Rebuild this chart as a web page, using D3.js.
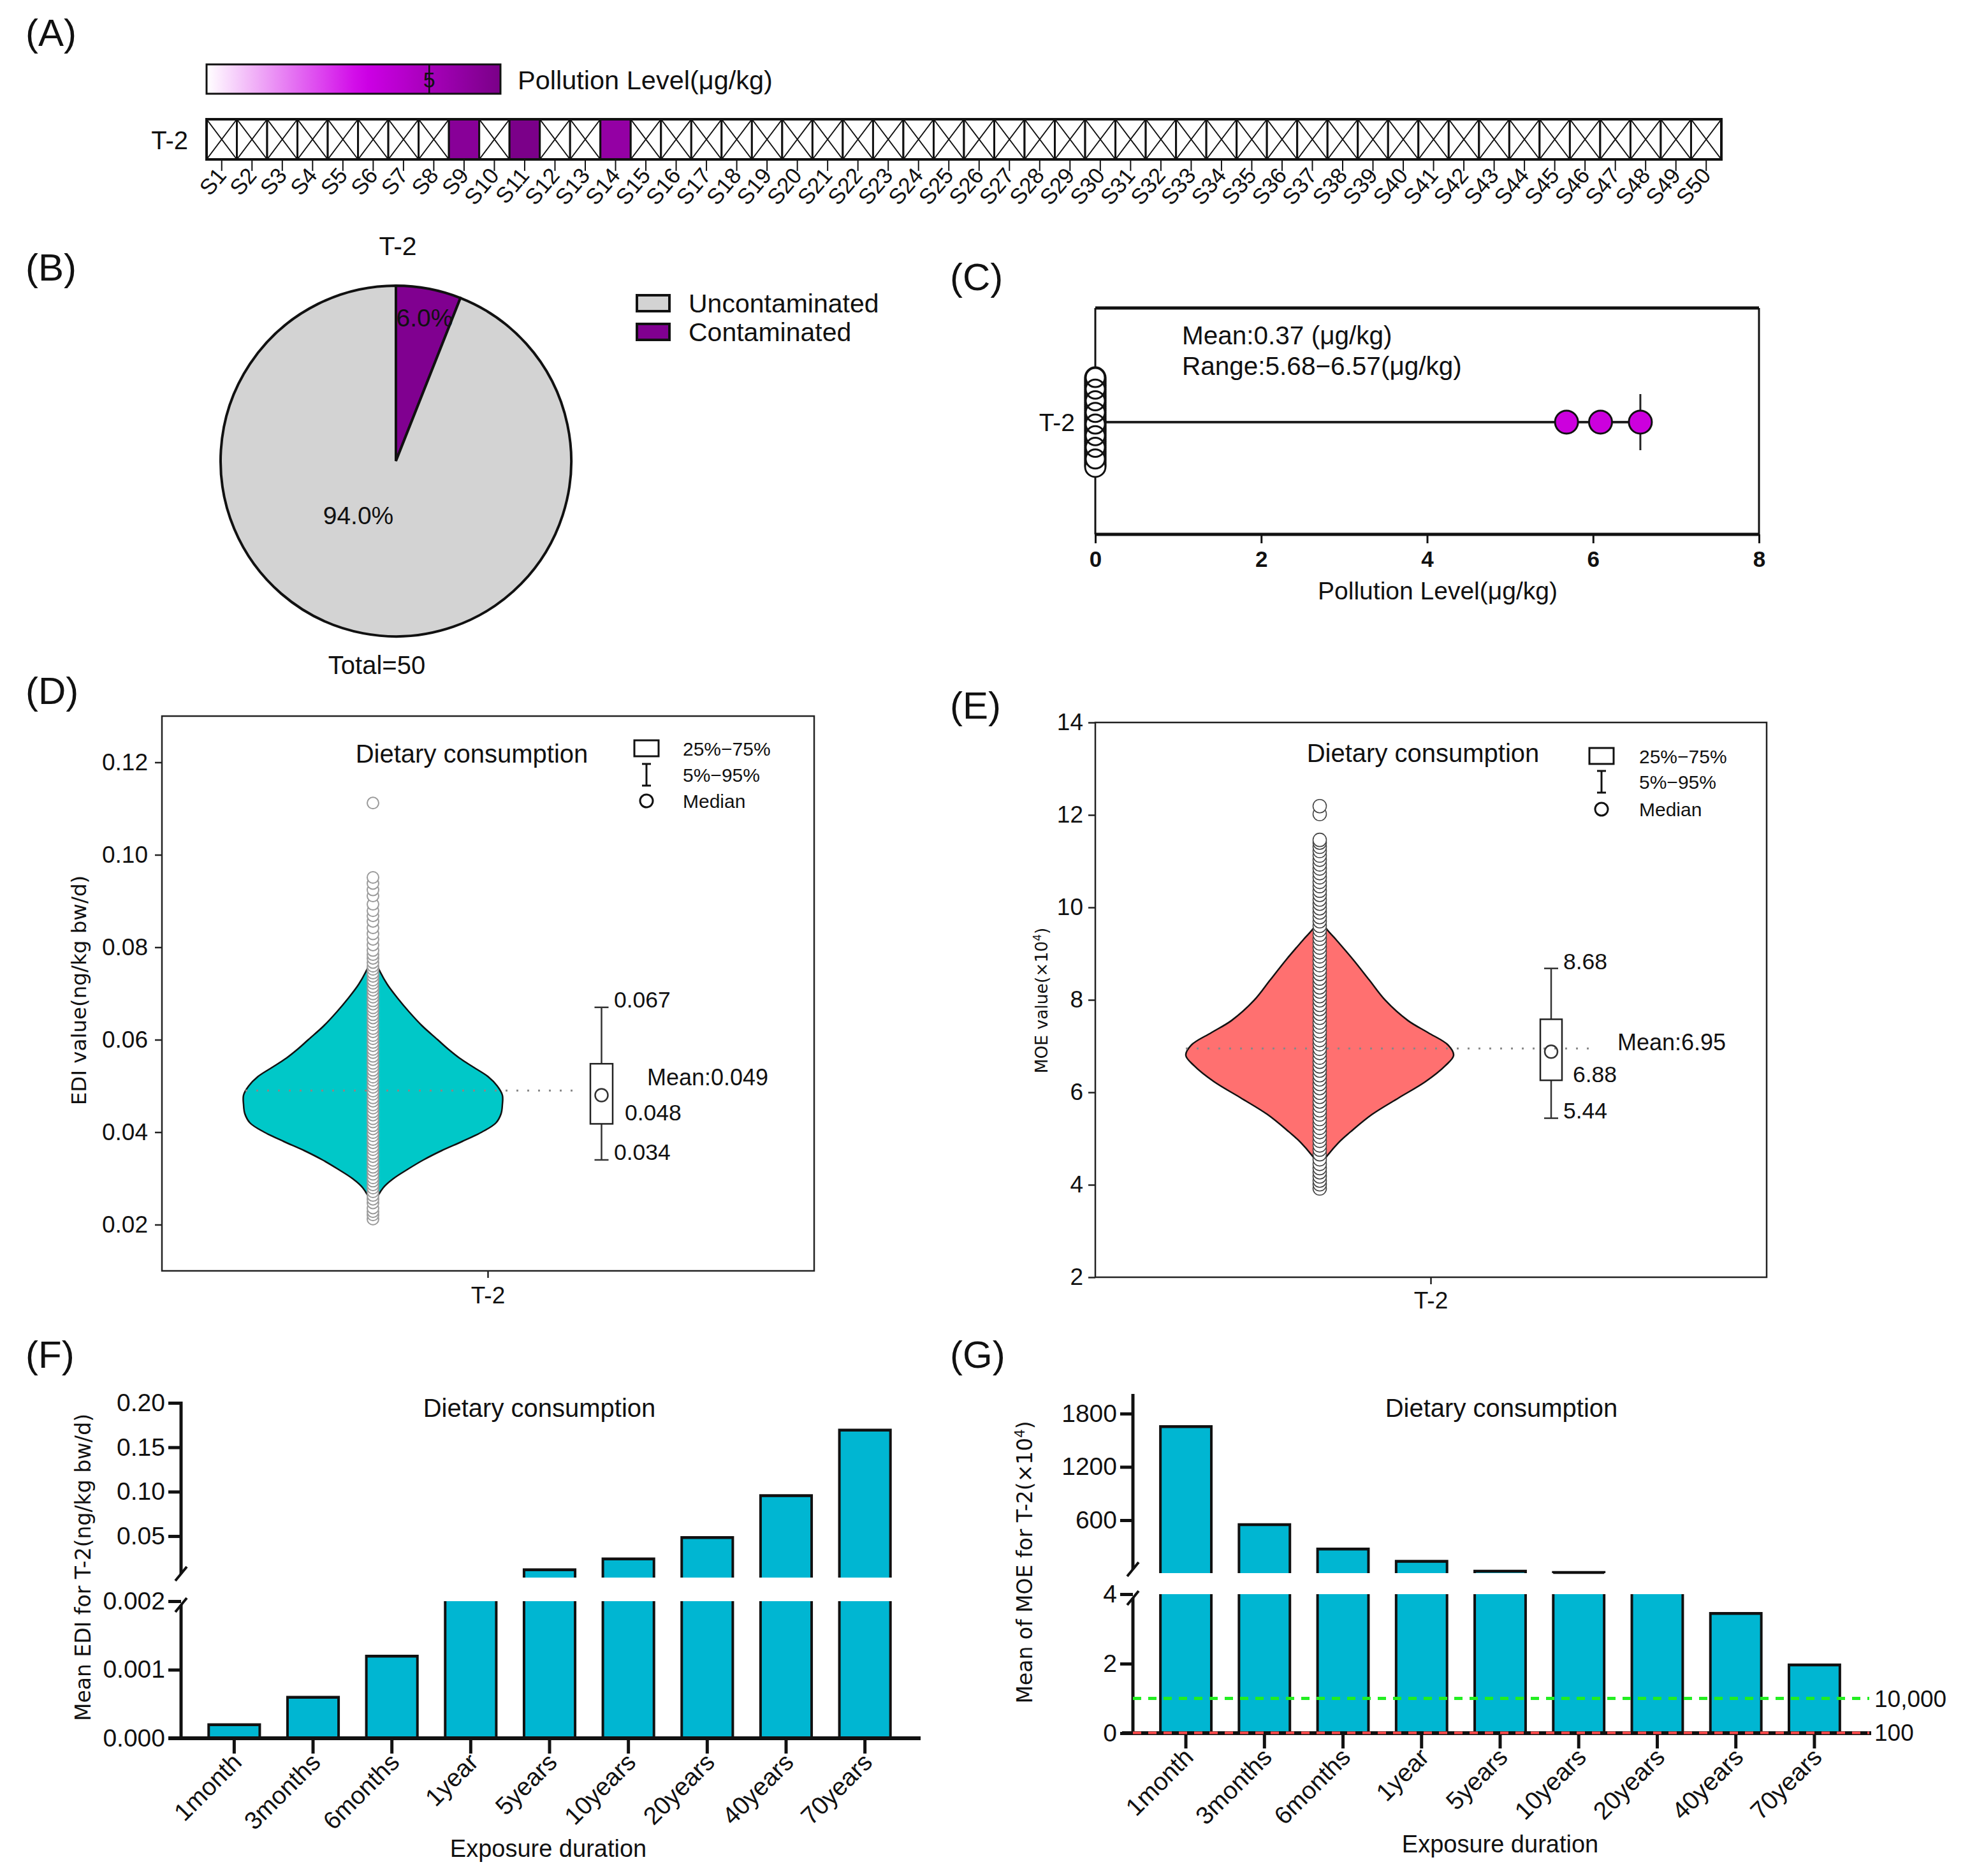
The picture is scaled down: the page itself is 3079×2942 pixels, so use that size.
<!DOCTYPE html>
<html>
<head>
<meta charset="utf-8">
<title>T-2 toxin</title>
<script src="https://cdn.jsdelivr.net/npm/d3@7/dist/d3.min.js"></script>
<style>
  body { margin: 0; background: #fff; }
</style>
</head>
<body>
<svg id="fig"></svg>
<script>
// ---------- data ----------
var sampleNames = ["S1","S2","S3","S4","S5","S6","S7","S8","S9","S10",
  "S11","S12","S13","S14","S15","S16","S17","S18","S19","S20",
  "S21","S22","S23","S24","S25","S26","S27","S28","S29","S30",
  "S31","S32","S33","S34","S35","S36","S37","S38","S39","S40",
  "S41","S42","S43","S44","S45","S46","S47","S48","S49","S50"];
var sampleLevels = [0,0,0,0,0,0,0,0,6.09,0,6.57,0,0,5.68,0,
  0,0,0,0,0,0,0,0,0,0,0,0,0,0,0,0,0,0,0,0,
  0,0,0,0,0,0,0,0,0,0,0,0,0,0,0];

var pieNames = ["Uncontaminated", "Contaminated"];
var pieCounts = [47, 3];
var pieColors = ["#d3d3d3", "#800090"];

var ediTicks = [0.02, 0.04, 0.06, 0.08, 0.10, 0.12];
var ediViolinVals = [0.0225, 0.025, 0.028, 0.030, 0.032, 0.034, 0.036, 0.038, 0.040, 0.042, 0.044, 0.046, 0.048,
  0.050, 0.052, 0.054, 0.056, 0.058, 0.060, 0.063, 0.066, 0.069, 0.072, 0.075, 0.077, 0.080, 0.085, 0.089];
var ediViolinDens = [0, 0.02, 0.08, 0.16, 0.27, 0.39, 0.53, 0.69, 0.84, 0.95, 0.99, 1.0, 1.0,
  0.96, 0.89, 0.78, 0.67, 0.58, 0.50, 0.38, 0.28, 0.19, 0.11, 0.05, 0.02, 0.01, 0.006, 0];
var ediPoints = [0.0212, 0.0221, 0.0228, 0.0236, 0.0247, 0.0255, 0.0263, 0.0271, 0.0279, 0.0286, 0.0294,
  0.0301, 0.0309, 0.0317, 0.0324, 0.0332, 0.0339, 0.0347, 0.0354, 0.0362, 0.0369, 0.0377, 0.0384, 0.0392,
  0.0399, 0.0407, 0.0414, 0.0422, 0.0429, 0.0437, 0.0444, 0.0452, 0.0459, 0.0467, 0.0474, 0.0482, 0.0489,
  0.0497, 0.0504, 0.0512, 0.0519, 0.0527, 0.0534, 0.0542, 0.0549, 0.0557, 0.0564, 0.0572, 0.0579, 0.0587,
  0.0594, 0.0602, 0.0609, 0.0617, 0.0624, 0.0632, 0.0639, 0.0647, 0.0654, 0.0662, 0.0669, 0.0677, 0.0684,
  0.0692, 0.0699, 0.0707, 0.0714, 0.0722, 0.0729, 0.0737, 0.0744, 0.0752, 0.0759, 0.0767, 0.0776, 0.0784,
  0.0793, 0.0805, 0.0817, 0.0829, 0.0842, 0.0856, 0.0868, 0.0879, 0.0893, 0.0911, 0.0924, 0.0938, 0.0951, 0.1112];
var ediBox = [0.034, 0.0418, 0.048, 0.0548, 0.067]; // 5%, 25%, median, 75%, 95%
var ediMean = 0.049;

var moeTicks = [2, 4, 6, 8, 10, 12, 14];
var moeViolinVals = [3.95, 4.2, 4.47, 4.64, 4.91, 5.17, 5.52, 5.88, 6.23, 6.58, 6.80, 7.02, 7.29, 7.55,
  7.99, 8.43, 8.87, 9.31, 9.58, 9.8, 10.3, 10.75];
var moeViolinDens = [0, 0.01, 0.02, 0.06, 0.14, 0.24, 0.39, 0.59, 0.79, 0.94, 1.0, 0.96, 0.81, 0.66,
  0.49, 0.37, 0.25, 0.12, 0.04, 0.015, 0.01, 0];
var moePoints = [3.92, 4.01, 4.09, 4.18, 4.27, 4.36, 4.45, 4.55, 4.66, 4.76, 4.85, 4.95, 5.04, 5.14, 5.23,
  5.33, 5.42, 5.52, 5.61, 5.71, 5.80, 5.90, 5.99, 6.09, 6.18, 6.28, 6.37, 6.47, 6.56, 6.66, 6.75, 6.85,
  6.94, 7.04, 7.13, 7.23, 7.32, 7.42, 7.51, 7.61, 7.70, 7.80, 7.89, 7.99, 8.08, 8.18, 8.27, 8.37, 8.46,
  8.56, 8.65, 8.75, 8.84, 8.94, 9.03, 9.13, 9.22, 9.32, 9.41, 9.51, 9.60, 9.70, 9.79, 9.89, 9.98, 10.08,
  10.17, 10.27, 10.36, 10.46, 10.55, 10.65, 10.74, 10.84, 10.93, 11.03, 11.12, 11.22, 11.31, 11.40, 11.46,
  12.02, 12.19];
var moeBox = [5.44, 6.26, 6.88, 7.58, 8.68];
var moeMean = 6.95;

var durations = ["1month", "3months", "6months", "1year", "5years", "10years", "20years", "40years", "70years"];
var meanEDI = [0.0002, 0.0006, 0.0012, 0.0024, 0.0122, 0.0245, 0.0485, 0.0958, 0.1695];
var meanMOE = [1656, 552, 276, 138, 27.6, 13.8, 6.9, 3.45, 1.97];
var ediLowTicks = [0, 0.001, 0.002];
var ediHighTicks = [0.05, 0.10, 0.15, 0.20];
var moeLowTicks = [0, 2, 4];
var moeHighTicks = [600, 1200, 1800];
var moeLimits = [10000, 100];

// ---------- setup ----------
var W = 3079, H = 2942;
var FONT = '"Liberation Sans", Arial, sans-serif';
var WIDE = '"DejaVu Sans", Verdana, sans-serif';
var svg = d3.select("#fig").attr("width", W).attr("height", H)
  .attr("font-family", FONT);
svg.append("rect").attr("width", W).attr("height", H).attr("fill", "#fff");
var defs = svg.append("defs");

function txt(s, x, y, size, anchor) {
  return svg.append("text").attr("x", x).attr("y", y)
    .attr("font-size", size).attr("text-anchor", anchor || "start")
    .attr("fill", "#111").text(s);
}

// panel letters
[["(A)", 40, 72], ["(B)", 40, 440], ["(C)", 1490, 455], ["(D)", 40, 1104],
 ["(E)", 1490, 1127], ["(F)", 40, 2145], ["(G)", 1490, 2145]].forEach(function (l) {
  txt(l[0], l[1], l[2], 60);
});

// ---------- (A) heat strip ----------
var heatColor = d3.scaleLinear().domain([0, 3.5, 6.6]).range(["#ffffff", "#d000e8", "#7a0088"]);
var grad = defs.append("linearGradient").attr("id", "cbar");
d3.range(0, 1.0001, 0.05).forEach(function (t) {
  grad.append("stop").attr("offset", t).attr("stop-color", heatColor(t * 6.6));
});
var cbX = d3.scaleLinear().domain([0, 6.6]).range([324, 785]);
svg.append("rect").attr("x", cbX(0)).attr("y", 101).attr("width", cbX(6.6) - cbX(0)).attr("height", 46)
  .attr("fill", "url(#cbar)").attr("stroke", "#111").attr("stroke-width", 3);
svg.append("line").attr("x1", cbX(5)).attr("x2", cbX(5)).attr("y1", 101).attr("y2", 147)
  .attr("stroke", "#111").attr("stroke-width", 2.5);
txt("5", cbX(5), 137, 34, "middle");
txt("Pollution Level(μg/kg)", 812, 140, 41.5);

var sx = d3.scaleBand().domain(sampleNames).range([324, 2700]);
var bw = sx.bandwidth();
var cells = svg.append("g").selectAll("g").data(sampleNames).enter().append("g");
cells.append("rect")
  .attr("x", function (d) { return sx(d); }).attr("y", 187)
  .attr("width", bw).attr("height", 63)
  .attr("fill", function (d, i) { return sampleLevels[i] > 0 ? heatColor(sampleLevels[i]) : "#fff"; })
  .attr("stroke", "#111").attr("stroke-width", 3);
cells.filter(function (d, i) { return sampleLevels[i] === 0; }).append("path")
  .attr("d", function (d) {
    var x = sx(d);
    return "M" + x + ",187L" + (x + bw) + ",250M" + (x + bw) + ",187L" + x + ",250";
  })
  .attr("stroke", "#111").attr("stroke-width", 2).attr("fill", "none");
svg.append("rect").attr("x", 324).attr("y", 187).attr("width", 2376).attr("height", 63)
  .attr("fill", "none").attr("stroke", "#111").attr("stroke-width", 4);
cells.append("line")
  .attr("x1", function (d) { return sx(d) + bw / 2; }).attr("x2", function (d) { return sx(d) + bw / 2; })
  .attr("y1", 250).attr("y2", 268).attr("stroke", "#111").attr("stroke-width", 2);
cells.append("text")
  .attr("transform", function (d) { return "translate(" + (sx(d) + bw / 2 + 9) + ",276) rotate(-50)"; })
  .attr("text-anchor", "end").attr("font-size", 35).attr("fill", "#111")
  .text(function (d) { return d; });
txt("T-2", 295, 234, 40, "end");

// ---------- (B) pie ----------
var pieIdx = [1, 0];
var pie = d3.pie().sort(null).value(function (i) { return pieCounts[i]; });
var arc = d3.arc().innerRadius(0).outerRadius(275);
var pg = svg.append("g").attr("transform", "translate(621,723)");
pg.selectAll("path").data(pie(pieIdx)).enter().append("path")
  .attr("d", arc).attr("fill", function (d) { return pieColors[d.data]; })
  .attr("stroke", "#111").attr("stroke-width", 4);
var total = d3.sum(pieCounts);
txt(d3.format(".1f")(pieCounts[1] / total * 100) + "%", 666, 512, 39, "middle");
txt(d3.format(".1f")(pieCounts[0] / total * 100) + "%", 562, 822, 39, "middle");
txt("Total=" + total, 591, 1057, 40, "middle");
txt("T-2", 624, 400, 41, "middle");
pieNames.forEach(function (n, i) {
  svg.append("rect").attr("x", 999).attr("y", 463 + i * 45).attr("width", 51).attr("height", 25)
    .attr("fill", pieColors[i]).attr("stroke", "#111").attr("stroke-width", 4);
  txt(n, 1080, 490 + i * 45, 41);
});

// ---------- (C) dot plot ----------
var cx = d3.scaleLinear().domain([0, 8]).range([1718, 2759]);
var cRow = 662;
svg.append("line").attr("x1", cx(0)).attr("x2", cx(8)).attr("y1", 483).attr("y2", 483).attr("stroke", "#111").attr("stroke-width", 5);
svg.append("line").attr("x1", cx(0)).attr("x2", cx(8)).attr("y1", 838).attr("y2", 838).attr("stroke", "#111").attr("stroke-width", 5);
svg.append("line").attr("x1", cx(0)).attr("x2", cx(0)).attr("y1", 483).attr("y2", 838).attr("stroke", "#111").attr("stroke-width", 3);
svg.append("line").attr("x1", cx(8)).attr("x2", cx(8)).attr("y1", 483).attr("y2", 838).attr("stroke", "#111").attr("stroke-width", 3);
var cAxis = svg.append("g").attr("transform", "translate(0,838)")
  .call(d3.axisBottom(cx).tickValues([0, 2, 4, 6, 8]).tickSize(14).tickPadding(12).tickFormat(d3.format("d")));
cAxis.select(".domain").remove();
cAxis.selectAll("line").attr("stroke", "#111").attr("stroke-width", 3);
cAxis.selectAll("text").attr("font-size", 35).attr("font-weight", "bold").attr("font-family", FONT).attr("fill", "#111");
txt("Pollution Level(μg/kg)", 2255, 940, 39, "middle");
txt("T-2", 1686, 676, 39, "end");
var maxLevel = d3.max(sampleLevels);
var posLevels = sampleLevels.filter(function (v) { return v > 0; });
var minPos = d3.min(posLevels);
svg.append("line").attr("x1", cx(0)).attr("x2", cx(maxLevel)).attr("y1", cRow).attr("y2", cRow)
  .attr("stroke", "#222").attr("stroke-width", 4);
svg.append("line").attr("x1", cx(maxLevel)).attr("x2", cx(maxLevel)).attr("y1", cRow - 44).attr("y2", cRow + 44)
  .attr("stroke", "#222").attr("stroke-width", 3);
// the 47 zero samples overlap in one column: outline pass, white pass, then every 6th ring
var zeros = sampleLevels.filter(function (v) { return v === 0; });
function zy(i) { return cRow + (i / (zeros.length - 1) - 0.5) * 140; }
var zg = svg.append("g");
zg.selectAll("circle.o").data(zeros).enter().append("circle")
  .attr("cx", function (d) { return cx(d); }).attr("cy", function (d, i) { return zy(i); })
  .attr("r", 16).attr("fill", "#fff").attr("stroke", "#111").attr("stroke-width", 3);
zg.selectAll("circle.w").data(zeros).enter().append("circle")
  .attr("cx", function (d) { return cx(d); }).attr("cy", function (d, i) { return zy(i); })
  .attr("r", 14).attr("fill", "#fff");
zg.selectAll("circle.r").data(zeros.filter(function (d, i) { return i % 6 === 0; })).enter().append("circle")
  .attr("cx", function (d) { return cx(d); }).attr("cy", function (d, i) { return zy(i * 6); })
  .attr("r", 15).attr("fill", "none").attr("stroke", "#111").attr("stroke-width", 3);
svg.append("g").selectAll("circle").data(posLevels).enter().append("circle")
  .attr("cx", function (d) { return cx(d); }).attr("cy", cRow)
  .attr("r", 18).attr("fill", "#cc00dd").attr("stroke", "#111").attr("stroke-width", 3);
txt("Mean:" + d3.format(".2f")(d3.mean(sampleLevels)) + " (μg/kg)", 1854, 540, 40.5);
txt("Range:" + d3.format(".2f")(minPos) + "−" + d3.format(".2f")(maxLevel) + "(μg/kg)", 1854, 588, 40.5);

// ---------- (D) / (E) violins ----------
function violinPanel(p) {
  var g = svg.append("g");
  var y = d3.scaleLinear().domain(p.domain).range([p.bottom, p.top]);
  g.append("rect").attr("x", p.left).attr("y", p.top).attr("width", p.right - p.left)
    .attr("height", p.bottom - p.top).attr("fill", "none").attr("stroke", "#222").attr("stroke-width", 2.5);
  var ax = g.append("g").attr("transform", "translate(" + p.left + ",0)")
    .call(d3.axisLeft(y).tickValues(p.ticks).tickFormat(p.fmt).tickSize(11).tickPadding(p.tickPad));
  ax.select(".domain").remove();
  ax.selectAll("line").attr("stroke", "#222").attr("stroke-width", 2.5);
  ax.selectAll("text").attr("font-size", 37).attr("font-family", FONT).attr("fill", "#111");
  var mid = (p.left + p.right) / 2;
  g.append("line").attr("x1", mid).attr("x2", mid).attr("y1", p.bottom).attr("y2", p.bottom + 11)
    .attr("stroke", "#222").attr("stroke-width", 2.5);
  txt("T-2", mid, p.xLabelY, 37, "middle");

  var vd = p.vals.map(function (v, i) { return { v: v, w: p.dens[i] }; });
  var area = d3.area().curve(d3.curveCatmullRom)
    .y(function (d) { return y(d.v); })
    .x0(function (d) { return p.cx - d.w * p.maxW; })
    .x1(function (d) { return p.cx + d.w * p.maxW; });
  g.append("path").datum(vd).attr("d", area).attr("fill", p.fill)
    .attr("stroke", "#111").attr("stroke-width", 2.5);

  // box plot
  var b = p.box, bx0 = p.boxX[0], bx1 = p.boxX[1], bm = (bx0 + bx1) / 2;
  g.append("line").attr("x1", bm).attr("x2", bm).attr("y1", y(b[0])).attr("y2", y(b[4]))
    .attr("stroke", "#333").attr("stroke-width", 2.5);
  [b[0], b[4]].forEach(function (v) {
    g.append("line").attr("x1", bm - 11).attr("x2", bm + 11).attr("y1", y(v)).attr("y2", y(v))
      .attr("stroke", "#333").attr("stroke-width", 2.5);
  });
  g.append("rect").attr("x", bx0).attr("y", y(b[3])).attr("width", bx1 - bx0).attr("height", y(b[1]) - y(b[3]))
    .attr("fill", "#fff").attr("stroke", "#222").attr("stroke-width", 2.5);

  g.append("line").attr("x1", p.meanX[0]).attr("x2", p.meanX[1]).attr("y1", y(p.mean)).attr("y2", y(p.mean))
    .attr("stroke", "#888").attr("stroke-width", 3).attr("stroke-dasharray", "3,14");
  g.append("circle").attr("cx", bm).attr("cy", y(b[2])).attr("r", 10)
    .attr("fill", "none").attr("stroke", "#333").attr("stroke-width", 2.5);

  g.append("g").selectAll("circle").data(p.points).enter().append("circle")
    .attr("cx", p.cx).attr("cy", function (d) { return y(d); }).attr("r", p.r)
    .attr("fill", "#fff").attr("stroke", p.ptStroke).attr("stroke-width", p.ptWidth);

  txt(p.fmtLab(b[4]), bx1 + 2, y(b[4]) + p.off[0], 35.5);
  txt("Mean:" + p.fmtLab(p.mean), p.meanLabX, y(p.mean) + p.off[1], 36);
  txt(p.fmtLab(b[2]), bx1 + p.medDx, y(b[2]) + p.off[2], 35.5);
  txt(p.fmtLab(b[0]), bx1 + 2, y(b[0]) + p.off[3], 35.5);

  // legend
  var L = p.leg;
  txt("Dietary consumption", L.titleX, L.titleY, 40, "middle");
  g.append("rect").attr("x", L.x - 19).attr("y", L.y0 - 13).attr("width", 38).attr("height", 25)
    .attr("fill", "#fff").attr("stroke", "#111").attr("stroke-width", 3);
  g.append("path").attr("d", "M" + (L.x - 7) + "," + (L.y1 - 17) + "H" + (L.x + 7) + "M" + L.x + "," + (L.y1 - 17) +
      "V" + (L.y1 + 17) + "M" + (L.x - 7) + "," + (L.y1 + 17) + "H" + (L.x + 7))
    .attr("stroke", "#111").attr("stroke-width", 3).attr("fill", "none");
  g.append("circle").attr("cx", L.x).attr("cy", L.y2).attr("r", 10)
    .attr("fill", "none").attr("stroke", "#111").attr("stroke-width", 3);
  txt("25%−75%", L.tx, L.y0 + 11, 30);
  txt("5%−95%", L.tx, L.y1 + 11, 30);
  txt("Median", L.tx, L.y2 + 11, 30);
}

violinPanel({
  left: 254, right: 1277, top: 1123, bottom: 1993, domain: [0.01, 0.13], ticks: ediTicks, tickPad: 11,
  fmt: d3.format(".2f"), xLabelY: 2044, cx: 585, maxW: 203, fill: "#00c8c8",
  vals: ediViolinVals, dens: ediViolinDens, points: ediPoints, r: 9, ptStroke: "#9a9a9a", ptWidth: 2,
  box: ediBox, boxX: [926, 961], mean: ediMean, meanX: [385, 903], fmtLab: d3.format(".3f"),
  meanLabX: 1015, medDx: 19, off: [0, -8, 39, 0],
  leg: { titleX: 740, titleY: 1196, x: 1014, tx: 1071, y0: 1174, y1: 1215, y2: 1256 }
});
txt("EDI value(ng/kg bw/d)", 0, 0, 32.5, "middle").attr("font-family", WIDE)
  .attr("transform", "translate(135,1553) rotate(-90)");

violinPanel({
  left: 1718, right: 2771, top: 1133, bottom: 2003, domain: [2, 14], ticks: moeTicks, tickPad: 8,
  fmt: d3.format("d"), xLabelY: 2052, cx: 2070, maxW: 210, fill: "#ff7070",
  vals: moeViolinVals, dens: moeViolinDens, points: moePoints, r: 10.5, ptStroke: "#444", ptWidth: 1.6,
  box: moeBox, boxX: [2416, 2450], mean: moeMean, meanX: [1860, 2504], fmtLab: d3.format(".2f"),
  meanLabX: 2537, medDx: 17, off: [1, 3, 48, 0],
  leg: { titleX: 2232, titleY: 1195, x: 2512, tx: 2571, y0: 1186, y1: 1226, y2: 1269 }
});
var el = svg.append("text").attr("font-family", WIDE).attr("font-size", 26.5).attr("text-anchor", "middle")
  .attr("fill", "#111").attr("transform", "translate(1643,1569) rotate(-90)");
el.append("tspan").text("MOE value(×10");
el.append("tspan").attr("dy", -10).attr("font-size", 17).text("4");
el.append("tspan").attr("dy", 10).text(")");

// ---------- (F) / (G) broken-axis bars ----------
function brokenBars(p) {
  var g = svg.append("g");
  var x = d3.scaleBand().domain(durations).range([p.axisX, p.xEnd]).paddingInner(0.352).paddingOuter(0.35);
  var yLow = d3.scaleLinear().domain(p.lowDomain).range(p.lowRange);
  var yHigh = d3.scaleLinear().domain(p.highDomain).range(p.highRange);
  var lowMax = p.lowDomain[1], highMin = p.highDomain[0];
  var fill = "#00b6d2";

  p.vals.forEach(function (v, i) {
    var x0 = x(durations[i]), x1 = x0 + x.bandwidth();
    var yb = yLow(0), top = yLow(Math.min(v, lowMax));
    g.append("rect").attr("x", x0).attr("y", top).attr("width", x1 - x0).attr("height", yb - top).attr("fill", fill);
    var d = v > lowMax ? "M" + x0 + "," + yb + "V" + top + "M" + x1 + "," + top + "V" + yb
                       : "M" + x0 + "," + yb + "V" + top + "H" + x1 + "V" + yb;
    g.append("path").attr("d", d).attr("fill", "none").attr("stroke", "#111").attr("stroke-width", 4);
    if (v > lowMax) {
      g.append("line").attr("x1", x0).attr("x2", x1).attr("y1", top).attr("y2", top);
    } else {
      g.append("line").attr("x1", x0).attr("x2", x1).attr("y1", top + 1).attr("y2", top + 1)
        .attr("stroke", "#111").attr("stroke-width", 3);
    }
    if (v > highMin) {
      var hb = yHigh(highMin), ht = yHigh(v);
      if (hb - ht > 1) {
        g.append("rect").attr("x", x0).attr("y", ht).attr("width", x1 - x0).attr("height", hb - ht).attr("fill", fill);
        g.append("path").attr("d", "M" + x0 + "," + hb + "V" + ht + "H" + x1 + "V" + hb)
          .attr("fill", "none").attr("stroke", "#111").attr("stroke-width", 4);
        g.append("line").attr("x1", x0).attr("x2", x1).attr("y1", ht + 1).attr("y2", ht + 1)
          .attr("stroke", "#111").attr("stroke-width", 3);
      }
    }
  });

  // y axis with break
  var ax = p.axisX;
  g.append("line").attr("x1", ax).attr("x2", ax).attr("y1", p.axisTop).attr("y2", p.highRange[0] - 6)
    .attr("stroke", "#111").attr("stroke-width", 5);
  g.append("line").attr("x1", ax).attr("x2", ax).attr("y1", p.lowRange[1] + 6).attr("y2", p.lowRange[0])
    .attr("stroke", "#111").attr("stroke-width", 5);
  [p.highRange[0] - 6, p.lowRange[1] + 6].forEach(function (yy) {
    g.append("line").attr("x1", ax - 9).attr("x2", ax + 9).attr("y1", yy + 11).attr("y2", yy - 11)
      .attr("stroke", "#111").attr("stroke-width", 4);
  });
  function ticks(sc, vals, fmt) {
    var a = g.append("g").attr("transform", "translate(" + ax + ",0)")
      .call(d3.axisLeft(sc).tickValues(vals).tickFormat(fmt).tickSize(20).tickPadding(5));
    a.select(".domain").remove();
    a.selectAll("line").attr("stroke", "#111").attr("stroke-width", 5);
    a.selectAll("text").attr("font-size", 39).attr("font-family", FONT).attr("fill", "#111");
  }
  ticks(yLow, p.lowTicks, p.lowFmt);
  ticks(yHigh, p.highTicks, p.highFmt);

  // x axis
  var y0 = yLow(0);
  g.append("line").attr("x1", p.xAxis[0]).attr("x2", p.xAxis[1]).attr("y1", y0).attr("y2", y0)
    .attr("stroke", "#111").attr("stroke-width", 6);
  durations.forEach(function (d) {
    var c = x(d) + x.bandwidth() / 2;
    g.append("line").attr("x1", c).attr("x2", c).attr("y1", y0).attr("y2", y0 + 24)
      .attr("stroke", "#111").attr("stroke-width", 5);
    g.append("text").attr("transform", "translate(" + (c + 14) + "," + (y0 + 40) + ") rotate(-45)")
      .attr("text-anchor", "end").attr("font-size", 39).attr("fill", "#111").text(d);
  });
  txt("Dietary consumption", p.titleX, 2222, 40, "middle");
  txt("Exposure duration", p.xTitleX, p.xTitleY, 38, "middle");
  return { x: x, yLow: yLow, g: g };
}

brokenBars({
  axisX: 284, xEnd: 1440, xAxis: [264, 1444], axisTop: 2198, vals: meanEDI,
  lowDomain: [0, 0.002], lowRange: [2726, 2511], highDomain: [0.0033, 0.2], highRange: [2474, 2200],
  lowTicks: ediLowTicks, lowFmt: d3.format(".3f"), highTicks: ediHighTicks, highFmt: d3.format(".2f"),
  titleX: 846, xTitleX: 860, xTitleY: 2912
});
svg.append("text").attr("font-family", WIDE).attr("font-size", 33).attr("text-anchor", "middle")
  .attr("fill", "#111").attr("transform", "translate(142,2458) rotate(-90)")
  .text("Mean EDI for T-2(ng/kg bw/d)");

var G = brokenBars({
  axisX: 1777, xEnd: 2929, xAxis: [1760, 2935], axisTop: 2186, vals: meanMOE,
  lowDomain: [0, 4], lowRange: [2718, 2500], highDomain: [4, 2000], highRange: [2467, 2189],
  lowTicks: moeLowTicks, lowFmt: d3.format("d"), highTicks: moeHighTicks, highFmt: d3.format("d"),
  titleX: 2355, xTitleX: 2353, xTitleY: 2905
});
var limColors = ["#22ee22", "#ff4d4d"];
moeLimits.forEach(function (m, i) {
  var yy = G.yLow(m / 10000);
  G.g.append("line").attr("x1", 1777).attr("x2", 2932).attr("y1", yy).attr("y2", yy)
    .attr("stroke", limColors[i]).attr("stroke-width", i === 0 ? 5 : 4).attr("stroke-dasharray", "13,11");
  txt(d3.format(",")(m), 2940, yy + 13, 37);
});
var gl = svg.append("text").attr("font-family", WIDE).attr("font-size", 33).attr("text-anchor", "middle")
  .attr("fill", "#111").attr("transform", "translate(1619,2450) rotate(-90)");
gl.append("tspan").text("Mean of MOE for T-2(×10");
gl.append("tspan").attr("dy", -12).attr("font-size", 21).text("4");
gl.append("tspan").attr("dy", 12).text(")");
</script>
</body>
</html>
